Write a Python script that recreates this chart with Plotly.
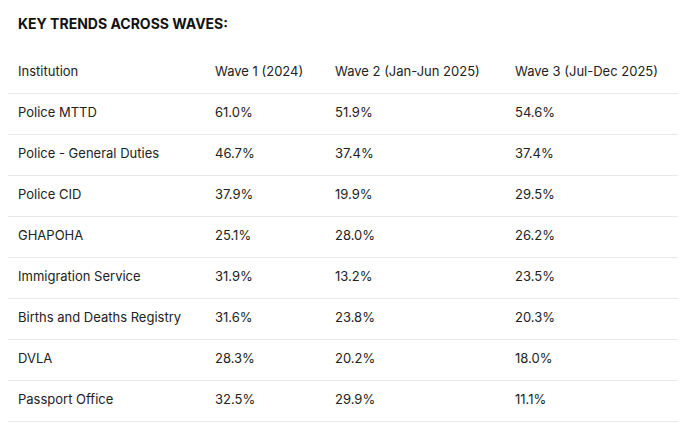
import plotly.graph_objects as go

title = "KEY TRENDS ACROSS WAVES:"
headers = ["Institution", "Wave 1 (2024)", "Wave 2 (Jan-Jun 2025)", "Wave 3 (Jul-Dec 2025)"]
institutions = ["Police MTTD", "Police - General Duties", "Police CID", "GHAPOHA",
                "Immigration Service", "Births and Deaths Registry", "DVLA", "Passport Office"]
wave1 = [61.0, 46.7, 37.9, 25.1, 31.9, 31.6, 28.3, 32.5]
wave2 = [51.9, 37.4, 19.9, 28.0, 13.2, 23.8, 20.2, 29.9]
wave3 = [54.6, 37.4, 29.5, 26.2, 23.5, 20.3, 18.0, 11.1]

col_x = [10, 207, 327, 507]
font = dict(family="Inter", size=13, color="#222222")

fig = go.Figure()
columns = [institutions] + [[f"{v:.1f}%" for v in w] for w in (wave1, wave2, wave3)]
for cx, head, vals in zip(col_x, headers, columns):
    fig.add_trace(go.Scatter(
        x=[cx] * (len(vals) + 1), y=list(range(len(vals) + 1)),
        text=[head] + vals, mode="text", textposition="middle right",
        textfont=font, hoverinfo="skip", showlegend=False))

n = len(institutions)
fig.update_layout(
    width=695, height=435, plot_bgcolor="white", paper_bgcolor="white",
    margin=dict(l=0, r=0, t=44, b=0),
    title=dict(text="<b>" + title + "</b>", x=10 / 695, xanchor="left", y=1 - 16 / 435,
               yanchor="middle", font=dict(family="Inter", size=14, color="#111111")),
    xaxis=dict(range=[0, 670], domain=[0, 670 / 695], visible=False, fixedrange=True),
    yaxis=dict(range=[-0.5 + 391 / 41, -0.5], tickvals=[i + 0.5 for i in range(n + 1)],
               showticklabels=False, showgrid=True, gridcolor="#e8e8e8", gridwidth=1,
               zeroline=False, showline=False, ticks=""),
)
fig.write_html("out.html")
